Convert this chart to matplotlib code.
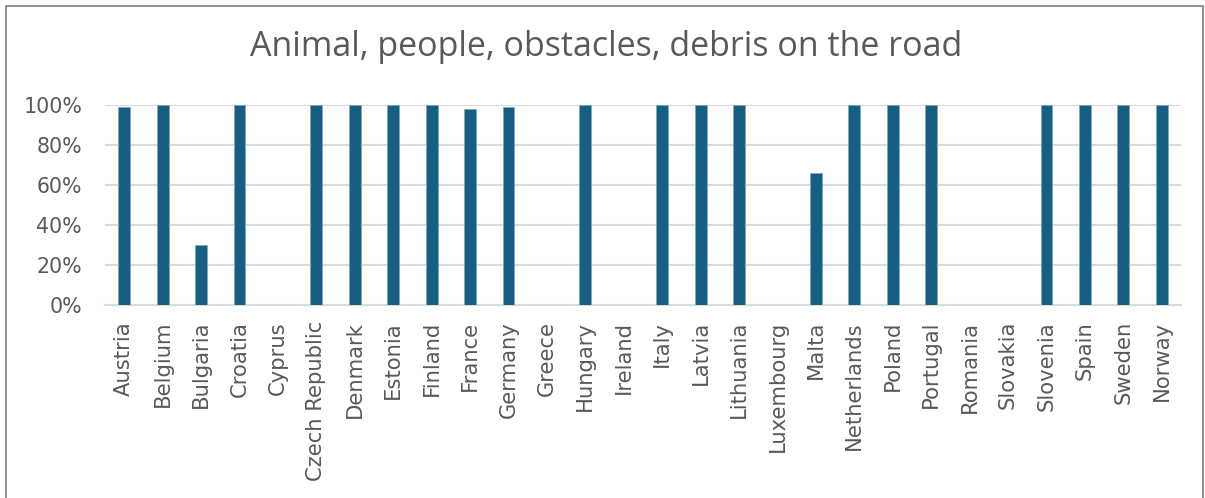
import matplotlib
matplotlib.use("Agg")
import matplotlib.pyplot as plt
from matplotlib.patches import Rectangle
from matplotlib.ticker import PercentFormatter

countries = ["Austria", "Belgium", "Bulgaria", "Croatia", "Cyprus", "Czech Republic",
             "Denmark", "Estonia", "Finland", "France", "Germany", "Greece", "Hungary",
             "Ireland", "Italy", "Latvia", "Lithuania", "Luxembourg", "Malta",
             "Netherlands", "Poland", "Portugal", "Romania", "Slovakia", "Slovenia",
             "Spain", "Sweden", "Norway"]
values = [99, 100, 30, 100, 0, 100, 100, 100, 100, 98, 99, 0, 100, 0, 100, 100, 100,
          0, 66, 100, 100, 100, 0, 0, 100, 100, 100, 100]
yticks = [0, 20, 40, 60, 80, 100]

plt.rcParams["font.family"] = ["DejaVu Sans"]
grey = "#595959"

fig = plt.figure(figsize=(12.05, 4.98), dpi=100)
ax = fig.add_axes([105 / 1205, 1 - 305 / 498, (1181 - 105) / 1205, 200 / 498])

x = range(len(countries))
ax.bar(x, values, width=0.31, color="#156082", edgecolor="#7fa6bb", linewidth=0.6, zorder=3)

ax.set_xlim(-0.5, len(countries) - 0.5)
ax.set_ylim(0, 100)
ax.set_yticks(yticks)
ax.yaxis.set_major_formatter(PercentFormatter(decimals=0))
ax.set_xticks(list(x))
ax.set_xticklabels(countries, rotation=90, fontsize=15.2, color=grey)
ax.tick_params(axis="y", labelsize=14.8, labelcolor=grey, length=0, pad=16.5)
ax.tick_params(axis="x", length=0, pad=11.5)
ax.grid(axis="y", color="#d9d9d9", linewidth=1.5, zorder=0)
for s in ["top", "right", "left"]:
    ax.spines[s].set_visible(False)
ax.spines["bottom"].set_color("#d9d9d9")
ax.spines["bottom"].set_linewidth(1.5)

fig.text(0.5 + 4 / 1205, 1 - 47 / 498, "Animal, people, obstacles, debris on the road",
         ha="center", va="center", fontsize=24.5, color=grey, family="Open Sans")

fig.patches.append(Rectangle((6 / 1205, -0.1), (1203 - 6) / 1205, 1.1 - 6 / 498,
                             transform=fig.transFigure, fill=False,
                             edgecolor="#7f7f7f", linewidth=1.2))

fig.savefig("out.png", dpi=100)
